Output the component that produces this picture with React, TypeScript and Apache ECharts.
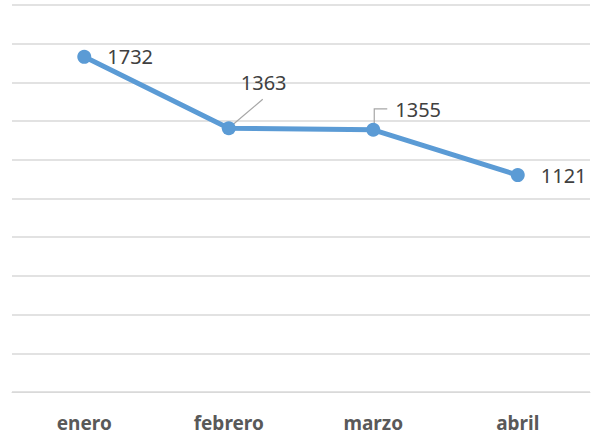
import React, { useEffect, useRef } from "react";
import * as echarts from "echarts";

const categories = ["enero", "febrero", "marzo", "abril"];
const values = [1732, 1363, 1355, 1121];
const yMin = 0;
const yMax = 2000;
const yInterval = 200;

// label placement styles per point (distance to the right of marker, vertical offset)
const labelDistance = [16, 5, 15, 16];
const labelOffsetY = [0, -46, -20, 0];
// leader lines (pixel offsets from the point) for points whose labels were moved
const leaderShapes: Record<number, number[][]> = {
  1: [[1, -1], [34, -29]],
  2: [[1, -2], [1, -21], [14, -21]],
};

export default function App() {
  const ref = useRef<HTMLDivElement>(null);
  useEffect(() => {
    if (!ref.current) return;
    const chart = echarts.init(ref.current, undefined, { renderer: "svg" });
    const leaderData = Object.keys(leaderShapes).map((k) => [Number(k), values[Number(k)]]);
    chart.setOption({
      animation: false,
      backgroundColor: "#ffffff",
      grid: { left: 12, right: 6, top: 5, bottom: 43, containLabel: false },
      xAxis: {
        type: "category",
        data: categories,
        boundaryGap: true,
        axisLine: { show: true, lineStyle: { color: "#D9D9D9", width: 1 } },
        axisTick: { show: false },
        axisLabel: {
          color: "#595959",
          fontFamily: "Noto Sans",
          fontWeight: "bold",
          fontSize: 19,
          lineHeight: 20,
          margin: 21,
        },
      },
      yAxis: {
        type: "value",
        min: yMin,
        max: yMax,
        interval: yInterval,
        axisLabel: { show: false },
        axisLine: { show: false },
        axisTick: { show: false },
        splitLine: { show: true, lineStyle: { color: "#D9D9D9", width: 1.5 } },
      },
      series: [
        {
          type: "custom",
          z: 1,
          silent: true,
          data: leaderData,
          renderItem: (params: any, api: any) => {
            const idx = api.value(0);
            const pt = api.coord([idx, api.value(1)]);
            const shape = leaderShapes[idx] || [];
            return {
              type: "polyline",
              shape: { points: shape.map((p) => [pt[0] + p[0], pt[1] + p[1]]) },
              style: { stroke: "#A6A6A6", lineWidth: 1.2, fill: "none" },
            };
          },
        },
        {
          type: "line",
          z: 2,
          data: values.map((v, i) => ({
            value: v,
            label: {
              show: true,
              position: "right",
              distance: labelDistance[i],
              offset: [0, labelOffsetY[i]],
              color: "#404040",
              fontFamily: "Noto Sans",
              fontSize: 20,
            },
          })),
          symbol: "circle",
          symbolSize: 14,
          lineStyle: { color: "#5B9BD5", width: 5 },
          itemStyle: { color: "#5B9BD5" },
        },
      ],
    });
    return () => chart.dispose();
  }, []);
  return (
    <div
      ref={ref}
      style={{ position: "fixed", left: 0, top: 0, width: 596, height: 435 }}
    />
  );
}
